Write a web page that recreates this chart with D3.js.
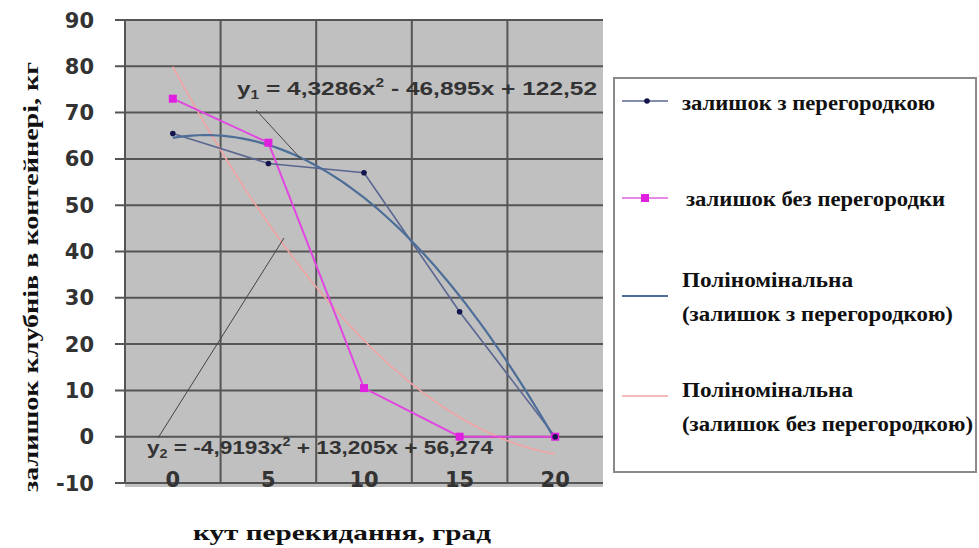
<!DOCTYPE html>
<html>
<head>
<meta charset="utf-8">
<script src="https://cdn.jsdelivr.net/npm/d3@7"></script>
<style>
  html, body { margin: 0; padding: 0; background: #ffffff; }
  svg { display: block; }
</style>
</head>
<body>
<svg id="chart" width="979" height="548"></svg>
<script>
// ---- data ----
const categories = ["0", "5", "10", "15", "20"];
const yTicks = [-10, 0, 10, 20, 30, 40, 50, 60, 70, 80, 90];
const withPartition = [65.5, 59, 57, 27, 0];
const withoutPartition = [73, 63.5, 10.5, 0, 0];
// trendline coefficients [a, b, c] for a*x^2 + b*x + c, x = 1..5 (category index + 1)
const trendWithCoef = [-4.9193, 13.205, 56.274];
const trendWithoutCoef = [4.3286, -46.895, 122.52];
const seriesNames = ["залишок з перегородкою", "залишок без перегородки"];
const trendNames = [["Поліномінальна", "(залишок з перегородкою)"], ["Поліномінальна", "(залишок без перегородкою)"]];
const yTitle = "залишок клубнів в контейнері, кг";
const xTitle = "кут перекидання, град";

const SERIF = "Liberation Serif";
const SANS = "Liberation Sans";
const TICKF = "DejaVu Sans";

const svg = d3.select("#chart");
const L = 125, R = 603, T = 20, B = 483;

const x = d3.scaleBand().domain(categories).range([L, R]);
const y = d3.scaleLinear().domain([-10, 90]).range([B, T]);
const cx = c => x(c) + x.bandwidth() / 2;

// plot background
svg.append("rect").attr("x", L).attr("y", T).attr("width", R - L).attr("height", B - T + 4)
  .attr("fill", "#c0c0c0");

// horizontal gridlines
svg.append("g").selectAll("line").data(yTicks).join("line")
  .attr("x1", L - 10).attr("x2", R)
  .attr("y1", d => y(d)).attr("y2", d => y(d))
  .attr("stroke", "#555").attr("stroke-width", 2);

// vertical gridlines at band boundaries
const vb = categories.map(c => x(c));
svg.append("g").selectAll("line").data(vb).join("line")
  .attr("x1", d => d).attr("x2", d => d)
  .attr("y1", T).attr("y2", B)
  .attr("stroke", "#555").attr("stroke-width", 2);

// y tick labels
svg.append("g").selectAll("text").data(yTicks).join("text")
  .style("font-family", TICKF).style("font-weight", "700").style("font-size", "21px")
  .attr("x", 94).attr("y", d => y(d)).attr("dy", "0.36em")
  .attr("text-anchor", "end").attr("fill", "#333")
  .text(d => d);

// x tick labels
svg.append("g").selectAll("text").data(categories).join("text")
  .style("font-family", TICKF).style("font-weight", "700").style("font-size", "21px")
  .attr("x", d => cx(d)).attr("y", 479).attr("dy", "0.36em")
  .attr("text-anchor", "middle").attr("fill", "#333")
  .text(d => d);

// trendlines
function trendPts(coef) {
  const pts = [];
  const n = 60;
  for (let i = 0; i <= n; i++) {
    const xi = 1 + 4 * i / n;
    pts.push([xi, coef[0] * xi * xi + coef[1] * xi + coef[2]]);
  }
  return pts;
}
const xIdx = d3.scaleLinear().domain([1, 5]).range([cx(categories[0]), cx(categories[4])]);
const trendLine = d3.line().x(d => xIdx(d[0])).y(d => y(d[1]));

svg.append("path").attr("d", trendLine(trendPts(trendWithoutCoef)))
  .attr("fill", "none").attr("stroke", "#f2a3a3").attr("stroke-width", 1.6);

// series lines
const line = d3.line().x((d, i) => cx(categories[i])).y(d => y(d));
svg.append("path").attr("d", line(withoutPartition))
  .attr("fill", "none").attr("stroke", "#e146e1").attr("stroke-width", 2);
svg.append("path").attr("d", line(withPartition))
  .attr("fill", "none").attr("stroke", "#5a6690").attr("stroke-width", 1.6);

svg.append("path").attr("d", trendLine(trendPts(trendWithCoef)))
  .attr("fill", "none").attr("stroke", "#4d6e98").attr("stroke-width", 2.2);

// markers
svg.append("g").selectAll("rect").data(withoutPartition).join("rect")
  .attr("x", (d, i) => cx(categories[i]) - 4).attr("y", d => y(d) - 4)
  .attr("width", 8).attr("height", 8).attr("fill", "#e01ee0");
svg.append("g").selectAll("circle").data(withPartition).join("circle")
  .attr("cx", (d, i) => cx(categories[i])).attr("cy", d => y(d)).attr("r", 2.8)
  .attr("fill", "#14144e");

// equation labels with leader lines
svg.append("line").attr("x1", 256).attr("y1", 110).attr("x2", 302).attr("y2", 160)
  .attr("stroke", "#444").attr("stroke-width", 1);
svg.append("line").attr("x1", 158).attr("y1", 438).attr("x2", 284).attr("y2", 238)
  .attr("stroke", "#444").attr("stroke-width", 1);

const fmt = v => v.toString().replace(".", ",");
function eqLabel(xp, yp, len, sub, parts) {
  const t = svg.append("text").attr("x", xp).attr("y", yp)
    .style("font-family", SANS).style("font-weight", "700").style("font-size", "19px")
    .attr("fill", "#333")
    .attr("textLength", len).attr("lengthAdjust", "spacingAndGlyphs");
  t.append("tspan").text("y");
  t.append("tspan").style("font-size", "12px").attr("dy", 4).text(sub);
  t.append("tspan").attr("dy", -4).text(parts[0]);
  t.append("tspan").style("font-size", "12px").attr("dy", -8).text("2");
  t.append("tspan").attr("dy", 8).text(parts[1]);
  return t;
}
eqLabel(237, 95, 360, "1", [" = " + fmt(trendWithoutCoef[0]) + "x",
  " - " + fmt(Math.abs(trendWithoutCoef[1])) + "x + " + fmt(trendWithoutCoef[2])]);
eqLabel(147, 454, 346, "2", [" = " + fmt(trendWithCoef[0]) + "x",
  " + " + fmt(trendWithCoef[1]) + "x + " + fmt(trendWithCoef[2])]);

// axis titles
svg.append("text").attr("transform", "translate(38,277) rotate(-90)")
  .style("font-family", SERIF).style("font-weight", "700").style("font-size", "22px")
  .attr("text-anchor", "middle").attr("fill", "#111")
  .attr("textLength", 430).attr("lengthAdjust", "spacingAndGlyphs").text(yTitle);
svg.append("text").attr("x", 342).attr("y", 540)
  .style("font-family", SERIF).style("font-weight", "700").style("font-size", "22px")
  .attr("text-anchor", "middle").attr("fill", "#111")
  .attr("textLength", 298).attr("lengthAdjust", "spacingAndGlyphs").text(xTitle);

// legend
const lg = svg.append("g");
lg.append("rect").attr("x", 614).attr("y", 78).attr("width", 362).attr("height", 394)
  .attr("fill", "#fff").attr("stroke", "#8a8a8a").attr("stroke-width", 2);
function legText(xp, yp, txt, len) {
  lg.append("text").attr("x", xp).attr("y", yp).attr("dy", "0.35em")
    .style("font-family", SERIF).style("font-weight", "700").style("font-size", "20px")
    .attr("fill", "#111")
    .attr("textLength", len).attr("lengthAdjust", "spacingAndGlyphs").text(txt);
}
// entry 1
lg.append("line").attr("x1", 622).attr("x2", 668).attr("y1", 101).attr("y2", 101)
  .attr("stroke", "#5a6690").attr("stroke-width", 1.6);
lg.append("circle").attr("cx", 647).attr("cy", 101).attr("r", 2.8).attr("fill", "#14144e");
legText(682, 103, seriesNames[0], 253);
// entry 2
lg.append("line").attr("x1", 622).attr("x2", 668).attr("y1", 198).attr("y2", 198)
  .attr("stroke", "#e889e8").attr("stroke-width", 2);
lg.append("rect").attr("x", 641).attr("y", 194).attr("width", 8).attr("height", 8).attr("fill", "#e01ee0");
legText(686, 199, seriesNames[1], 259);
// entry 3
lg.append("line").attr("x1", 622).attr("x2", 668).attr("y1", 296).attr("y2", 296)
  .attr("stroke", "#4d6e98").attr("stroke-width", 2.2);
legText(682, 280, trendNames[0][0], 171);
legText(682, 314, trendNames[0][1], 271);
// entry 4
lg.append("line").attr("x1", 622).attr("x2", 668).attr("y1", 396).attr("y2", 396)
  .attr("stroke", "#f2a3a3").attr("stroke-width", 1.6);
legText(682, 390, trendNames[1][0], 171);
legText(682, 424, trendNames[1][1], 291);
</script>
</body>
</html>
